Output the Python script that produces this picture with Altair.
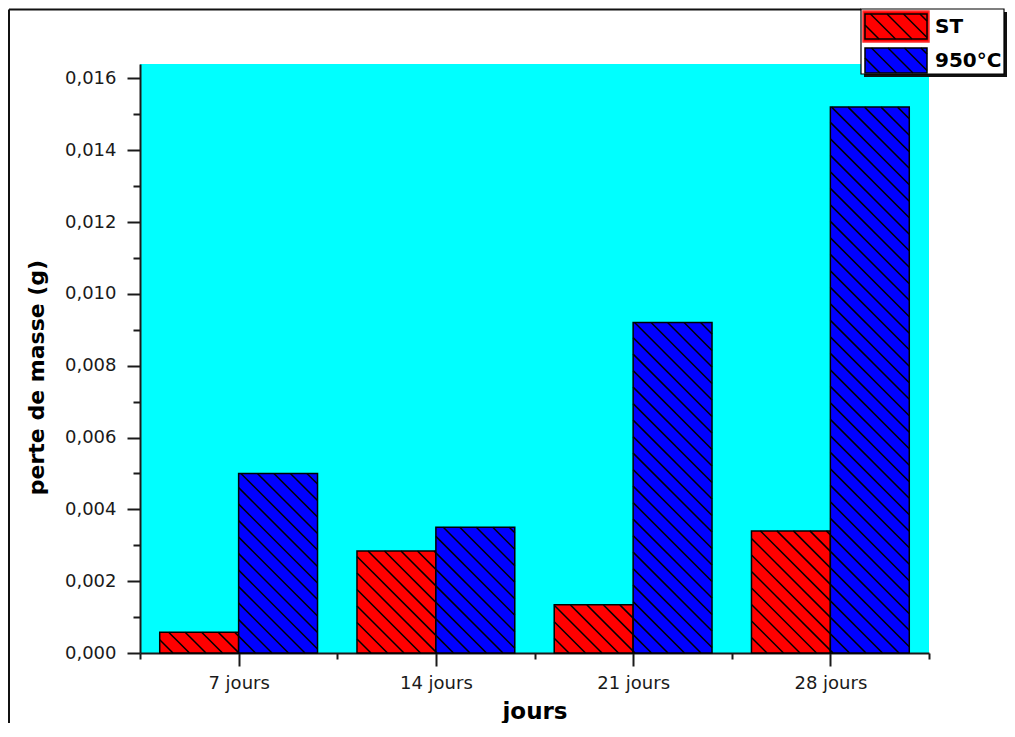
import json
import math
import altair as alt
import pandas as pd

# ---------------- data ----------------
categories = ["7 jours", "14 jours", "21 jours", "28 jours"]
series = ["ST", "950°C"]
st_values = [0.00058, 0.00284, 0.00134, 0.0034]
c950_values = [0.0050, 0.0035, 0.0092, 0.0152]
y_major = [0.000, 0.002, 0.004, 0.006, 0.008, 0.010, 0.012, 0.014, 0.016]
y_minor = [0.001, 0.003, 0.005, 0.007, 0.009, 0.011, 0.013, 0.015]
colors = ["#FF0000", "#0000FF"]

# ---------------- layout ----------------
W, H = 789, 589
YMAX = 0.0164
NCAT = len(categories)
BAR = 0.4
SPACING = 16.5
FONT = "DejaVu Sans"


def px_of(xd):
    return xd / NCAT * W


def py_of(yd):  # pixels, y up from the x axis
    return yd / YMAX * H


def xd_of(px):
    return px / W * NCAT


def yd_of(py):
    return py / H * YMAX


def hatch(x0, x1, y0, y1):
    segs = []
    c = math.ceil((x0 + y0) / SPACING) * SPACING
    while c < x1 + y1:
        xa = max(x0, c - y1)
        xb = min(x1, c - y0)
        if xb - xa > 0.8:
            segs.append(dict(hx=xd_of(xa), hy=yd_of(c - xa), hx2=xd_of(xb), hy2=yd_of(c - xb)))
        c += SPACING
    return segs


rows = []
for i, cat in enumerate(categories):
    for j, (s, vals) in enumerate(zip(series, [st_values, c950_values])):
        x0 = i + 0.5 - BAR + j * BAR
        rows.append(dict(category=cat, series=s, value=vals[i], x0=x0, x1=x0 + BAR, base=0.0))
bars_df = pd.DataFrame(rows)

hatch_rows = []
for r in rows:
    hatch_rows += hatch(px_of(r["x0"]), px_of(r["x1"]), 0.0, py_of(r["value"]))


# legend geometry (pixels relative to the plot's top-left corner, y down)
def rect_rel(x0, x1, ys0, ys1, **kw):
    d = dict(x=xd_of(x0), x2=xd_of(x1), y=yd_of(H - ys1), y2=yd_of(H - ys0))
    d.update(kw)
    return d


LX = 721
box_df = pd.DataFrame([rect_rel(LX, LX + 143, -55, 10)])
shadow_df = pd.DataFrame([rect_rel(LX + 3, LX + 146, -52, 13)])
outline_df = pd.DataFrame([rect_rel(LX + 2, LX + 68, -53, -22)])
sw_geo = [(LX + 4, LX + 66, -50, -25), (LX + 4, LX + 66, -16, 9)]
swatch_df = pd.DataFrame([rect_rel(*g, series=s) for g, s in zip(sw_geo, series)])
for g in sw_geo:
    hatch_rows += hatch(g[0], g[1], H - g[3], H - g[2])
hatch_df = pd.DataFrame(hatch_rows)
text_df = pd.DataFrame([
    dict(tx=xd_of(LX + 74), ty=yd_of(H - (g[2] + g[3]) / 2), label=s) for g, s in zip(sw_geo, series)
])

xscale = alt.Scale(domain=[0, NCAT], nice=False, zero=False)
yscale = alt.Scale(domain=[0, YMAX], nice=False, zero=False)
color_scale = alt.Scale(domain=series, range=colors)

x_label_expr = json.dumps(categories).replace('"', "'") + "[floor(datum.value)]"

AX = "#1a1a1a"

bars = alt.Chart(bars_df).mark_rect(stroke="black", strokeWidth=1.5).encode(
    x=alt.X("x0:Q", scale=xscale, axis=alt.Axis(
        values=[i + 0.5 for i in range(NCAT)], labelExpr=x_label_expr, orient="bottom",
        grid=False, tickSize=13, tickWidth=2, tickColor=AX, domainWidth=2, domainColor=AX,
        labelFont=FONT, labelFontSize=18, labelColor=AX, labelBaseline="alphabetic",
        labelPadding=22, title="jours", titleFont=FONT, titleFontSize=23, titleFontWeight="bold",
        titleColor="black", titleBaseline="alphabetic", titleY=65)),
    x2="x1:Q",
    y=alt.Y("value:Q", scale=yscale, axis=alt.Axis(
        values=y_major, labelExpr="replace(format(datum.value, '.3f'), '.', ',')", orient="left",
        grid=False, tickSize=13, tickWidth=2, tickColor=AX, domainWidth=2, domainColor=AX,
        labelFont=FONT, labelFontSize=18, labelColor=AX, labelPadding=11,
        title="perte de masse (g)", titleFont=FONT, titleFontSize=22, titleFontWeight="bold",
        titleColor="black", titleBaseline="alphabetic", titleX=-97, titleY=313)),
    y2="base:Q",
    color=alt.Color("series:N", scale=color_scale, legend=None),
)

hatches = alt.Chart(hatch_df).mark_rule(color="black", strokeWidth=1.5).encode(
    x=alt.X("hx:Q", scale=xscale, axis=alt.Axis(
        values=list(range(NCAT + 1)), labels=False, domain=False, grid=False, orient="bottom",
        tickSize=6, tickWidth=2, tickColor=AX, title=None)),
    x2="hx2:Q",
    y=alt.Y("hy:Q", scale=yscale, axis=alt.Axis(
        values=y_minor, labels=False, domain=False, grid=False, orient="left",
        tickSize=7, tickWidth=2, tickColor=AX, title=None)),
    y2="hy2:Q",
)


def plain_rect(df, **mk):
    return alt.Chart(df).mark_rect(**mk).encode(
        x=alt.X("x:Q", scale=xscale, axis=None), x2="x2:Q",
        y=alt.Y("y:Q", scale=yscale, axis=None), y2="y2:Q")


shadow = plain_rect(shadow_df, color="#111111")
box = plain_rect(box_df, fill="white", stroke="black", strokeWidth=1.2)
outline = plain_rect(outline_df, fill="#FF0000", stroke="#FF3030", strokeWidth=1.5)
swatches = alt.Chart(swatch_df).mark_rect(stroke="black", strokeWidth=1.5).encode(
    x=alt.X("x:Q", scale=xscale, axis=None), x2="x2:Q",
    y=alt.Y("y:Q", scale=yscale, axis=None), y2="y2:Q",
    color=alt.Color("series:N", scale=color_scale, legend=None),
)
legend_text = alt.Chart(text_df).mark_text(
    align="left", baseline="middle", font=FONT, fontSize=20, fontWeight="bold", color="black"
).encode(
    x=alt.X("tx:Q", scale=xscale, axis=None),
    y=alt.Y("ty:Q", scale=yscale, axis=None),
    text="label:N",
)

one = pd.DataFrame({"k": [0]})
frame_top = alt.Chart(one).mark_rule(color="#111111", strokeWidth=2).encode(
    x=alt.value(-131), x2=alt.value(LX), y=alt.value(-54.5))
frame_left = alt.Chart(one).mark_rule(color="#111111", strokeWidth=2).encode(
    x=alt.value(-131), y=alt.value(-54.5), y2=alt.value(H + 80))

chart = alt.layer(
    frame_top, frame_left, bars, shadow, box, outline, swatches, hatches, legend_text
).resolve_axis(x="independent", y="independent").properties(
    width=W, height=H,
    autosize=alt.AutoSizeParams(type="none"),
    padding={"left": 132, "top": 56, "right": 78, "bottom": 70},
).configure_view(fill="#00FFFF", strokeWidth=0)

chart.save("out.html", embed_options={"renderer": "svg", "actions": False})
